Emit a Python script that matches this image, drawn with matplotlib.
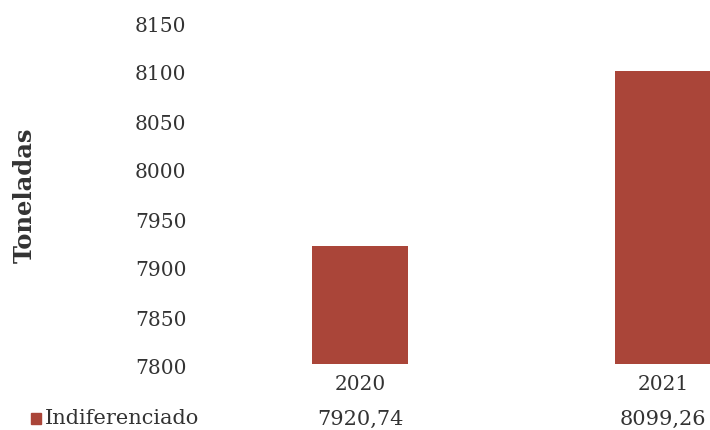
import matplotlib
matplotlib.use("Agg")
import matplotlib.pyplot as plt
import matplotlib.transforms as mtransforms
from matplotlib.patches import Rectangle

# Data
years = ["2020", "2021"]
values = [7920.74, 8099.26]
value_labels = ["7920,74", "8099,26"]
series_name = "Indiferenciado"
y_ticks = [7800, 7850, 7900, 7950, 8000, 8050, 8100, 8150]

bar_color = "#AA4539"
text_color = "#333333"
font = "DejaVu Serif"

W, H = 710, 430
fig = plt.figure(figsize=(W / 100, H / 100), dpi=100)
fig.patch.set_facecolor("white")

# axes spans two category slots; right slot runs past the figure edge
left_px, right_px = 208.5, 814.5
top_px, bottom_px = 21, 364
ax = fig.add_axes([left_px / W, 1 - bottom_px / H,
                   (right_px - left_px) / W, (bottom_px - top_px) / H])

x = list(range(len(years)))
ax.bar(x, [v - 7800 for v in values], bottom=7800, width=0.317,
       color=bar_color, edgecolor="none")
ax.set_xlim(-0.5, 1.5)
ax.set_ylim(7800, 8150)

for s in ax.spines.values():
    s.set_visible(False)

ax.set_yticks(y_ticks)
ax.set_yticklabels([str(t) for t in y_ticks], fontsize=14.5, family=font,
                   color=text_color)
ax.tick_params(axis="y", length=0, pad=16)
shift = mtransforms.ScaledTranslation(0, -3 / 100, fig.dpi_scale_trans)
for lab in ax.get_yticklabels():
    lab.set_transform(lab.get_transform() + shift)

ax.set_xticks(x)
ax.set_xticklabels(years, fontsize=14.5, family=font, color=text_color)
ax.tick_params(axis="x", length=0, pad=8)

# y-axis title
fig.text(25 / W, 1 - 195 / H, "Toneladas", rotation=90, ha="center",
         va="center", fontsize=17.5, fontweight="bold", family=font,
         color=text_color)

# data table row below the years
row_y = 1 - 419 / H
row_tf = mtransforms.blended_transform_factory(ax.transData, fig.transFigure)
for xi, lab in zip(x, value_labels):
    ax.text(xi, row_y, lab, transform=row_tf, ha="center", va="center",
            fontsize=15, family=font, color=text_color)

fig.patches.append(Rectangle((31 / W, 1 - 424 / H), 10 / W, 11 / H,
                             transform=fig.transFigure, color=bar_color,
                             figure=fig))
fig.text(45 / W, row_y, series_name, ha="left", va="center", fontsize=15,
         family=font, color=text_color)

fig.savefig("out.png", dpi=100, facecolor="white")
